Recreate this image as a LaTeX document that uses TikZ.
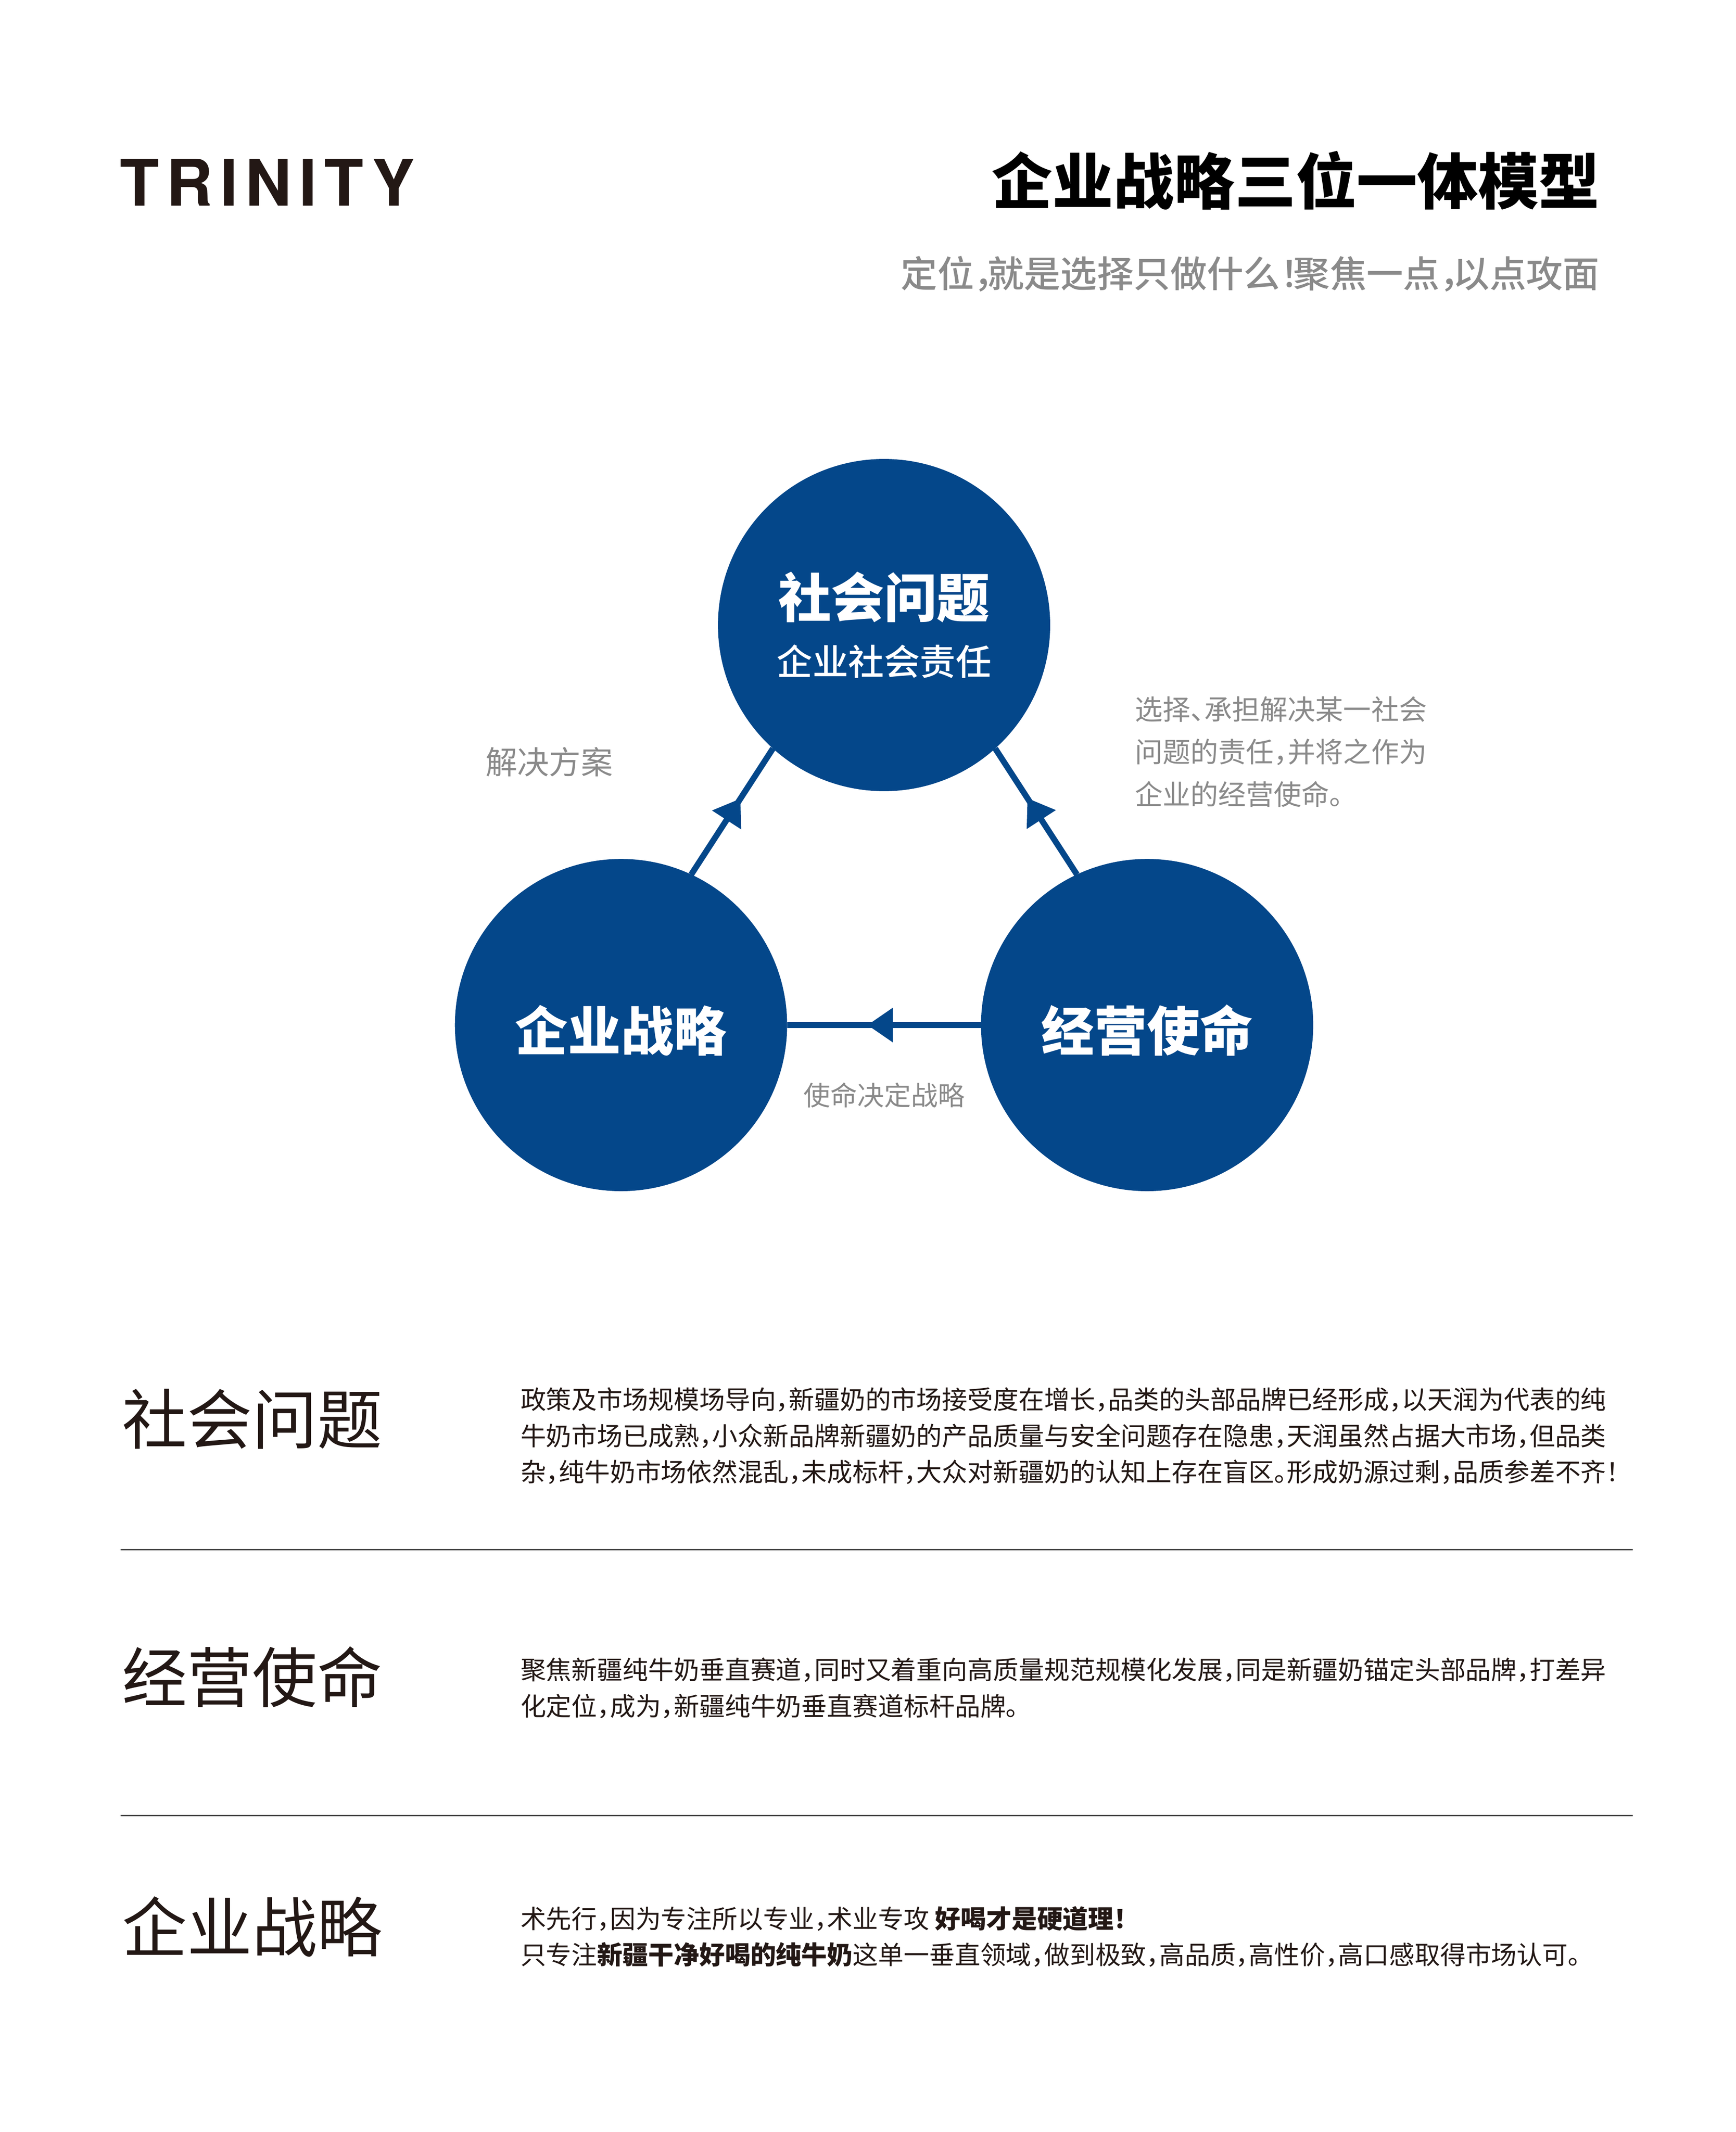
\documentclass[tikz,border=0pt]{standalone}
\usepackage{fontspec}
\setmainfont{Noto Sans CJK SC}
\newfontfamily\logofont{TeX Gyre Heros}[LetterSpace=11.4]
\IfFontExistsTF{Noto Sans CJK SC Medium}
	{\newfontfamily\medfont{Noto Sans CJK SC Medium}}
	{\newcommand{\medfont}{\bfseries}}
\usetikzlibrary{arrows.meta,decorations.markings}
\definecolor{myblue}{HTML}{04478A}
\definecolor{mygray}{HTML}{8A8A8A}
\definecolor{mydark}{HTML}{231815}
% narrow punctuation
\newcommand{\hcomma}[1][0.5em]{\makebox[#1][l]{，}}
\newcommand{\hstop}[1][0.5em]{\makebox[#1][l]{。}}
\newcommand{\hpause}[1][0.5em]{\makebox[#1][l]{、}}
\newcommand{\hbang}[1][0.5em]{\makebox[#1][l]{！}}

\tikzset{
	every picture/.append style={x=0.5pt,y=-0.5pt},
	mycircle/.style = {circle, fill=myblue, text=white, align=center, minimum size=122.5pt, inner sep=0pt, outer sep=0pt},
	myedge/.style = {draw=myblue, line width=2.2pt, postaction={decorate},
		decoration={markings, mark=at position #1 with {\arrow[myblue]{Triangle[length=9.4pt,width=12.2pt]}}}},
	mynote/.style = {text=mygray, inner sep=0pt, align=left},
	myhead/.style = {anchor=west, inner sep=0pt, text=mydark, font=\fontsize{24pt}{28pt}\selectfont},
	mytext/.style = {anchor=west, inner sep=0pt, align=left, text=mydark, font=\fontsize{9.42pt}{13.3pt}\selectfont},
	myrule/.style = {draw=black!75, line width=0.5pt}
}

\begin{document}
\begin{tikzpicture}
	\fill[white] (0,0) rectangle (1280,1572.4);
	\useasboundingbox (0,0) rectangle (1280,1572.4);
	% header
	\node[anchor=base west, inner sep=0pt, text=mydark, font=\logofont\bfseries\fontsize{23.7pt}{28pt}\selectfont] at (88,151.7) (logo) {TRINITY};
	\node[anchor=east, inner sep=0pt, text=black, font=\bfseries\fontsize{22.4pt}{26pt}\selectfont] at (1180,133.2) (title) {企业战略三位一体模型};
	\node[anchor=east, inner sep=0pt, text=mygray, font=\medfont\fontsize{13.5pt}{16pt}\selectfont] at (1180,202) (subtitle) {定位\hcomma[0.36em]就是选择只做什么\hbang[0.36em]聚焦一点\hcomma[0.36em]以点攻面};
	% circles
	\node[mycircle, font=\bfseries\fontsize{19.5pt}{21.3pt}\selectfont] at (652,461) (social) {社会问题\\{\medfont\mdseries\fontsize{13.2pt}{21.3pt}\selectfont 企业社会责任}};
	\node[mycircle, text height=19pt, text depth=0pt, font=\bfseries\fontsize{19.5pt}{21.3pt}\selectfont] at (458,756) (strategy) {企业战略};
	\node[mycircle, text height=19pt, text depth=0pt, font=\bfseries\fontsize{19.5pt}{21.3pt}\selectfont] at (846,756) (mission) {经营使命};
	\draw[myedge=0.603] (strategy.65) -- (social.228);
	\draw[myedge=0.606] (mission.115) -- (social.312);
	\draw[myedge=0.586] (mission.west) -- (strategy.east);
	% notes
	\node[mynote, font=\fontsize{11.75pt}{14pt}\selectfont] at (405,562) (solution) {解决方案};
	\node[mynote, anchor=west, font=\fontsize{10.25pt}{15.65pt}\selectfont] at (836.6,554.5) (choose) {选择\hpause 承担解决某一社会\\问题的责任\hcomma 并将之作为\\企业的经营使命\hstop};
	\node[mynote, font=\fontsize{9.9pt}{12pt}\selectfont] at (652.2,807.8) (decide) {使命决定战略};
	% sections
	\node[myhead] at (89.5,1046.5) (h1) {社会问题};
	\node[mytext] at (383.5,1059) (t1) {政策及市场规模场导向\hcomma 新疆奶的市场接受度在增长\hcomma 品类的头部品牌已经形成\hcomma 以天润为代表的纯\\牛奶市场已成熟\hcomma 小众新品牌新疆奶的产品质量与安全问题存在隐患\hcomma 天润虽然占据大市场\hcomma 但品类\\杂\hcomma 纯牛奶市场依然混乱\hcomma 未成标杆\hcomma 大众对新疆奶的认知上存在盲区\hstop 形成奶源过剩\hcomma 品质参差不齐\hbang};
	\draw[myrule] (89,1143) -- (1204,1143);
	\node[myhead] at (89.5,1236.9) (h2) {经营使命};
	\node[mytext] at (383.5,1245) (t2) {聚焦新疆纯牛奶垂直赛道\hcomma 同时又着重向高质量规范规模化发展\hcomma 同是新疆奶锚定头部品牌\hcomma 打差异\\化定位\hcomma 成为\hcomma 新疆纯牛奶垂直赛道标杆品牌\hstop};
	\draw[myrule] (89,1339) -- (1204,1339);
	\node[myhead] at (89.5,1421) (h3) {企业战略};
	\node[mytext] at (383.5,1428.3) (t3) {术先行\hcomma 因为专注所以专业\hcomma 术业专攻 {\bfseries 好喝才是硬道理\hbang}\\只专注{\bfseries 新疆干净好喝的纯牛奶}这单一垂直领域\hcomma 做到极致\hcomma 高品质\hcomma 高性价\hcomma 高口感取得市场认可\hstop};
\end{tikzpicture}
\end{document}
